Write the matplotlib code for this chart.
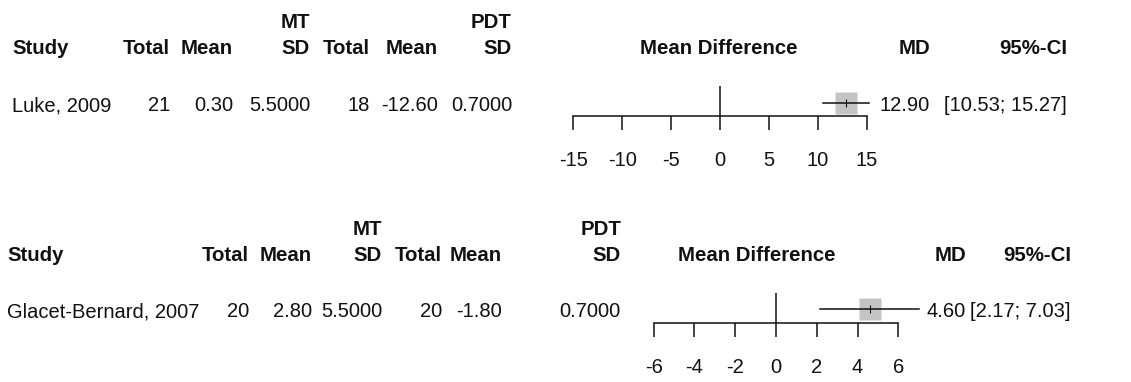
import matplotlib
matplotlib.use("Agg")
import matplotlib.pyplot as plt
from matplotlib import font_manager

plt.rcParams['font.family'] = ['Liberation Sans', 'DejaVu Sans']
plt.rcParams['axes.unicode_minus'] = False

# data for the two forest plots (MT vs PDT)
studies = ["Luke, 2009", "Glacet-Bernard, 2007"]
mt_total = [21, 20]
mt_mean = [0.30, 2.80]
mt_sd = [5.5, 5.5]
pdt_total = [18, 20]
pdt_mean = [-12.60, -1.80]
pdt_sd = [0.7, 0.7]
md = [12.90, 4.60]
ci_lo = [10.53, 2.17]
ci_hi = [15.27, 7.03]
xticks = [[-15, -10, -5, 0, 5, 10, 15], [-6, -4, -2, 0, 2, 4, 6]]

W, H = 1131, 382
FS_B = 14.7     # bold headers
FS_R = 17.2     # body text (narrow face, taller)
FS_T = 16.5     # tick labels
TXT = '#111111'

# narrow face for plain text if available
try:
    font_manager.findfont('Liberation Sans Narrow', fallback_to_default=False)
    NARROW = ['Liberation Sans Narrow', 'DejaVu Sans']
except Exception:
    NARROW = ['Liberation Sans', 'DejaVu Sans']
    FS_R = 14.5
    FS_T = 14.5

# layout of each panel in pixels
layouts = [
    dict(study=12, cols=[170, 233, 310, 370, 438, 512], grp_y=28, hdr_y=54, row_y=111,
         zero=720, scale=9.77, xr=16.2, axis_y=116, top=86, md_r=930, ci_r=1067, mdiff_x=719),
    dict(study=7, cols=[249, 312, 382, 442, 502, 621], grp_y=235, hdr_y=261, row_y=317,
         zero=776, scale=20.4, xr=7.6, axis_y=323, top=293, md_r=966, ci_r=1071, mdiff_x=757),
]

fig = plt.figure(figsize=(W / 100, H / 100), dpi=100)
bg = fig.add_axes([0, 0, 1, 1])
bg.set_xlim(0, W)
bg.set_ylim(H, 0)
bg.axis('off')

for i, L in enumerate(layouts):
    c = L['cols']
    hb = dict(fontsize=FS_B, fontweight='bold', va='baseline', color=TXT)
    hr = dict(fontsize=FS_R, family=NARROW, va='baseline', color=TXT)
    bg.text(L['study'], L['hdr_y'], "Study", ha='left', **hb)
    for x, lab in zip(c, ["Total", "Mean", "SD", "Total", "Mean", "SD"]):
        bg.text(x, L['hdr_y'], lab, ha='right', **hb)
    bg.text(c[2], L['grp_y'], "MT", ha='right', **hb)
    bg.text(c[5], L['grp_y'], "PDT", ha='right', **hb)
    bg.text(L['mdiff_x'], L['hdr_y'], "Mean Difference", ha='center', **hb)
    bg.text(L['md_r'], L['hdr_y'], "MD", ha='right', **hb)
    bg.text(L['ci_r'], L['hdr_y'], "95%-CI", ha='right', **hb)

    vals = [str(mt_total[i]), "%.2f" % mt_mean[i], "%.4f" % mt_sd[i],
            str(pdt_total[i]), "%.2f" % pdt_mean[i], "%.4f" % pdt_sd[i]]
    bg.text(L['study'], L['row_y'], studies[i], ha='left', **hr)
    for x, v in zip(c, vals):
        bg.text(x, L['row_y'], v, ha='right', **hr)
    bg.text(L['md_r'], L['row_y'], "%.2f" % md[i], ha='right', **hr)
    bg.text(L['ci_r'], L['row_y'], "[%.2f; %.2f]" % (ci_lo[i], ci_hi[i]), ha='right', **hr)

    # forest axes
    x0 = L['zero'] - L['xr'] * L['scale']
    x1 = L['zero'] + L['xr'] * L['scale']
    rect = [x0 / W, 1 - L['axis_y'] / H, (x1 - x0) / W, (L['axis_y'] - L['top']) / H]
    ax = fig.add_axes(rect)
    ax.patch.set_alpha(0)
    ax.set_xlim(-L['xr'], L['xr'])
    ax.set_ylim(0, 1)
    for s in ['top', 'left', 'right']:
        ax.spines[s].set_visible(False)
    ax.spines['bottom'].set_bounds(xticks[i][0], xticks[i][-1])
    ax.spines['bottom'].set_linewidth(1.1)
    ax.spines['bottom'].set_color(TXT)
    ax.set_yticks([])
    ax.set_xticks(xticks[i])
    ax.set_xticklabels([str(t) for t in xticks[i]], family=NARROW, fontsize=FS_T)
    ax.tick_params(axis='x', direction='out', length=10, width=1.1, pad=15, colors=TXT)
    ax.axvline(0, ymin=0, ymax=1, color=TXT, lw=1.1)
    yc = (L['axis_y'] - (L['row_y'] - 8)) / (L['axis_y'] - L['top'])
    ax.plot([md[i]], [yc], marker='s', markersize=15.5, color='#c4c4c4', mec='none', clip_on=False)
    ax.plot([ci_lo[i], ci_hi[i]], [yc, yc], color=TXT, lw=1.1, clip_on=False)
    ax.plot([md[i]], [yc], marker='|', markersize=6, color=TXT, mew=0.8, clip_on=False)

fig.savefig('out.png', dpi=100)
